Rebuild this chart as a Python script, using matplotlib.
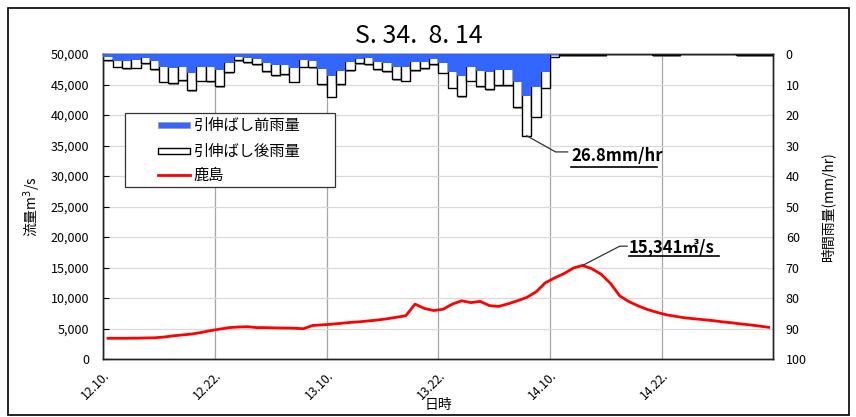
import matplotlib
matplotlib.use("Agg")
import matplotlib.pyplot as plt
import matplotlib.patches as mpatches
import matplotlib.lines as mlines
import matplotlib.patheffects as pe
from matplotlib.ticker import FuncFormatter, MultipleLocator
import numpy as np

plt.rcParams['font.family'] = ['Noto Sans CJK JP', 'DejaVu Sans']

title = "S. 34.  8. 14"

# hourly rainfall (mm/hr), from 12日10時
rain_before = [0.9, 2.2, 2.2, 2.1, 1.3, 2.2, 4.4, 4.7, 4.4, 6.1, 4.4, 4.4,
               5.2, 2.8, 0.9, 1.3, 1.6, 2.8, 3.6, 3.5, 4.5, 2.0, 2.2, 5.0,
               7.2, 5.5, 2.7, 1.5, 1.4, 2.6, 2.8, 4.2, 4.4, 2.7, 2.5, 1.6,
               3.1, 5.8, 7.2, 4.4, 5.5, 5.9, 5.2, 5.2, 9.1, 13.8, 10.7, 5.8,
               0.2, 0.1, 0.1, 0.1, 0.1, 0.1, 0.0, 0.0, 0.0, 0.0, 0.0, 0.1,
               0.1, 0.1, 0.0, 0.0, 0.0, 0.0, 0.0, 0.0, 0.1, 0.1, 0.1, 0.1]
rain_after = [2.0, 4.2, 4.7, 4.5, 3.1, 4.9, 9.1, 9.6, 8.6, 11.8, 8.7, 8.9,
              10.5, 5.9, 2.0, 2.7, 3.3, 5.7, 6.9, 6.7, 9.1, 4.2, 4.4, 9.8,
              14.0, 9.9, 5.2, 3.1, 3.3, 5.0, 5.6, 8.2, 8.7, 5.2, 4.7, 3.3,
              6.1, 11.0, 13.8, 8.7, 10.5, 11.6, 10.2, 10.2, 17.5, 26.8, 20.5, 11.0,
              0.9, 0.3, 0.3, 0.3, 0.3, 0.3, 0.0, 0.0, 0.0, 0.0, 0.0, 0.3,
              0.3, 0.3, 0.0, 0.0, 0.0, 0.0, 0.0, 0.0, 0.3, 0.3, 0.3, 0.3]

# discharge at 鹿島 (m3/s), hourly
flow = [3400, 3400, 3400, 3420, 3450, 3480, 3600, 3800, 3950, 4100, 4350, 4650,
        4900, 5150, 5250, 5300, 5150, 5150, 5100, 5080, 5050, 4970, 5500, 5600,
        5700, 5850, 6000, 6100, 6250, 6400, 6600, 6850, 7100, 9000, 8300, 7950,
        8150, 9000, 9550, 9250, 9450, 8750, 8630, 9050, 9550, 10100, 11000, 12500,
        13300, 14000, 14900, 15341, 14800, 13900, 12400, 10350, 9400, 8700, 8100, 7650,
        7250, 7000, 6750, 6600, 6450, 6300, 6100, 5950, 5750, 5600, 5400, 5200]

tick_hours = [0, 12, 24, 36, 48, 60]
tick_labels = ["12.10.", "12.22.", "13.10.", "13.22.", "14.10.", "14.22."]

series_names = ["引伸ばし前雨量", "引伸ばし後雨量", "鹿島"]

peak_flow = max(flow)
peak_rain = max(rain_after)

BLUE = '#3366ff'
RED = '#ff0000'

fig = plt.figure(figsize=(8.56, 4.17), dpi=100)
ax = fig.add_axes([0.1207, 0.139, 0.7827, 0.7315])
ax2 = ax.twinx()

hours = np.arange(len(flow))
centers = hours + 0.5

# discharge line
ax.plot(centers, flow, color=RED, lw=2.0, zorder=3)
ax.set_xlim(0, 72)
ax.set_ylim(0, 50000)
ax.yaxis.set_major_locator(MultipleLocator(5000))
ax.yaxis.set_major_formatter(FuncFormatter(lambda v, p: f"{int(v):,}"))
ax.set_xticks(tick_hours)
ax.set_xticklabels(tick_labels, rotation=45, ha='right', va='top',
                   rotation_mode='anchor', fontsize=8.8)
ax.tick_params(axis='x', length=0, pad=7)
ax.tick_params(axis='y', direction='in', length=4, labelsize=9, pad=10)
ax.grid(axis='y', color='#d9d9d9', lw=0.9)
ax.grid(axis='x', color='#a6a6a6', lw=0.9)
ax.set_axisbelow(True)
ax.set_ylabel("流量m$^3$/s", fontsize=10, labelpad=6)
ax.set_xlabel("日時", fontsize=10, labelpad=-3)

# rainfall bars, hanging from the top
shadow = [pe.SimplePatchShadow(offset=(0.6, -1.2), shadow_rgbFace='#808080', alpha=0.8), pe.Normal()]
ax2.bar(hours, rain_after, width=1.0, align='edge', facecolor='white',
        edgecolor='black', lw=1.0, zorder=2, path_effects=shadow)
ax2.bar(hours, rain_before, width=1.0, align='edge', facecolor=BLUE,
        edgecolor='none', zorder=3)
ax2.set_ylim(100, 0)
ax2.yaxis.set_major_locator(MultipleLocator(10))
ax2.tick_params(axis='y', direction='in', length=0, labelsize=9, pad=9)
ax2.set_ylabel("時間雨量(mm/hr)", fontsize=10, labelpad=10)

for a in (ax, ax2):
    for s in a.spines.values():
        s.set_color('#222222')
        s.set_linewidth(1.0)

# callout for the peak hourly rainfall
i_rain = rain_after.index(peak_rain)
ax2.plot([i_rain + 0.5, 48.6, 49.9], [peak_rain, 32.1, 32.1],
         color='#333333', lw=0.9, zorder=5)
ax2.text(50.3, 33.6, f"{peak_rain}mm/hr", fontsize=12, fontweight='bold',
         ha='left', va='center', zorder=6)
ax2.plot([50.3, 59.5], [37.2, 37.2], color='black', lw=1.2, zorder=6)

# callout for the peak discharge
i_peak = flow.index(peak_flow)
ax.plot([i_peak + 0.5, 55.5, 56.3], [peak_flow, 18500, 18500],
        color='#333333', lw=0.9, zorder=5)
ax.text(56.5, 18400, f"{peak_flow:,}㎥/s", fontsize=12, fontweight='bold',
        ha='left', va='center', zorder=6)
ax.plot([56.5, 66.2], [16900, 16900], color='black', lw=1.2, zorder=6)

# legend box
def px(x, y):
    return x / 856, 1 - y / 417

x0, y1 = px(125, 113)
x1, y0 = px(335, 187)
fig.patches.append(mpatches.Rectangle((x0, y0), x1 - x0, y1 - y0,
                                      transform=fig.transFigure, facecolor='white',
                                      edgecolor='#333333', lw=0.9, zorder=10))
hx0, _ = px(158, 0)
hx1, _ = px(190, 0)
tx, _ = px(194, 0)
rows = [125, 151, 175]
_, ya = px(0, rows[0] + 3)
_, yb = px(0, rows[0] - 3)
fig.patches.append(mpatches.Rectangle((hx0, ya), hx1 - hx0, yb - ya,
                                      transform=fig.transFigure, facecolor=BLUE,
                                      edgecolor='#a0a0a0', lw=0.6, zorder=11))
_, ya = px(0, rows[1] + 3.5)
_, yb = px(0, rows[1] - 3.5)
fig.patches.append(mpatches.Rectangle((hx0, ya), hx1 - hx0, yb - ya,
                                      transform=fig.transFigure, facecolor='white',
                                      edgecolor='black', lw=1.0, zorder=11))
_, yl = px(0, rows[2])
fig.lines.append(mlines.Line2D([hx0, hx1], [yl, yl], transform=fig.transFigure,
                               color=RED, lw=2.0, zorder=11))
for name, r in zip(series_names, rows):
    _, yt = px(0, r)
    fig.text(tx, yt, name, ha='left', va='center', fontsize=11, zorder=12)

fig.text(0.489, 0.914, title, ha='center', va='center', fontsize=18)

# outer frame
fig.patches.append(mpatches.Rectangle((0.009, 0.004), 0.983, 0.977,
                                      transform=fig.transFigure, fill=False,
                                      edgecolor='black', lw=1.2))

fig.savefig("out.png", dpi=100)
